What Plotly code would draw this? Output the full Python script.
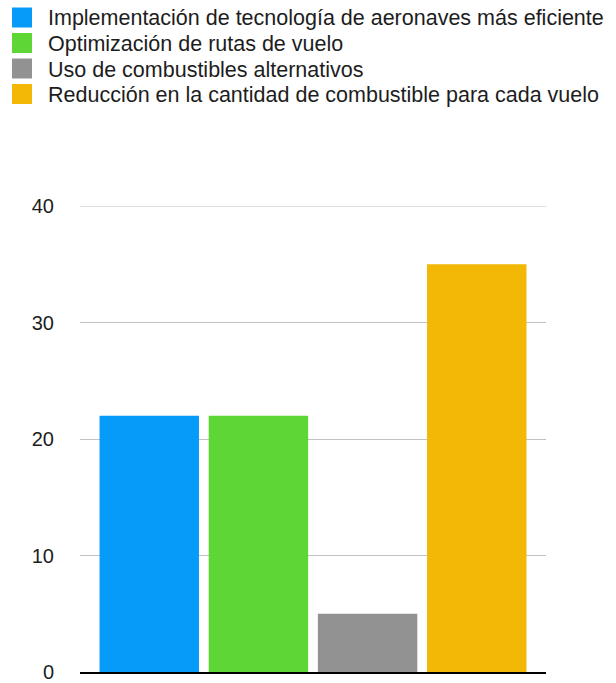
import plotly.graph_objects as go

# Emission-reduction measures and their share (%)
categories = [
    "Implementación de tecnología de aeronaves más eficiente",
    "Optimización de rutas de vuelo",
    "Uso de combustibles alternativos",
    "Reducción en la cantidad de combustible para cada vuelo",
]
values = [22, 22, 5, 35]
colors = ["#069BF9", "#5DD636", "#929292", "#F3B705"]
y_ticks = [0, 10, 20, 30, 40]

FONT = "Liberation Sans, Arial, Helvetica, sans-serif"
W, H = 616, 683
ML, MR, MT, MB = 80, 70, 206, 11
PW, PH = W - ML - MR, H - MT - MB


def px_to_paper_x(px):
    return (px - ML) / PW


def px_to_paper_y(py):
    return (H - MB - py) / PH


fig = go.Figure()
for name, val, col in zip(categories, values, colors):
    # one trace per measure, grouped in a single slot
    fig.add_trace(go.Bar(
        x=[0], y=[val], name=name, marker=dict(color=col, line=dict(width=0)),
        showlegend=False, hoverinfo="y+name",
    ))

shapes, annotations = [], []

# top gridline sits on the edge of the range, so draw it explicitly
shapes.append(dict(
    type="line", xref="paper", yref="y", x0=0, x1=1,
    y0=y_ticks[-1], y1=y_ticks[-1], line=dict(color="#c2c2c2", width=1),
    layer="below",
))

# legend: colour swatches with labels stacked at the top-left
row0, row_step, sw = 17.5, 25.5, 20
for i, (name, col) in enumerate(zip(categories, colors)):
    cy = row0 + i * row_step
    shapes.append(dict(
        type="rect", xref="paper", yref="paper",
        x0=px_to_paper_x(12), x1=px_to_paper_x(12 + sw),
        y0=px_to_paper_y(cy - sw / 2), y1=px_to_paper_y(cy + sw / 2),
        fillcolor=col, line=dict(width=0),
    ))
    annotations.append(dict(
        text=name, xref="paper", yref="paper",
        x=px_to_paper_x(46), y=px_to_paper_y(cy + 1),
        xanchor="left", yanchor="middle", showarrow=False,
        font=dict(family=FONT, size=21.5, color="#1d1d1d"),
    ))

fig.update_layout(
    width=W, height=H,
    margin=dict(l=ML, r=MR, t=MT, b=MB, autoexpand=False),
    paper_bgcolor="white", plot_bgcolor="white",
    barmode="group", bargap=0.063, bargroupgap=0.089,
    font=dict(family=FONT, size=20, color="#1d1d1d"),
    showlegend=False,
    shapes=shapes, annotations=annotations,
    xaxis=dict(
        range=[-0.5, 0.5], showticklabels=False, showgrid=False, zeroline=False,
        showline=True, linecolor="black", linewidth=2, ticks="", fixedrange=True,
        automargin=False,
    ),
    yaxis=dict(
        range=[0, 40], tickvals=y_ticks, showgrid=True, gridcolor="#c2c2c2",
        gridwidth=1, zeroline=False, showline=False, ticks="",
        ticklabelstandoff=25, tickfont=dict(family=FONT, size=20, color="#1d1d1d"),
        fixedrange=True, automargin=False,
    ),
)

fig.write_html("out.html")
